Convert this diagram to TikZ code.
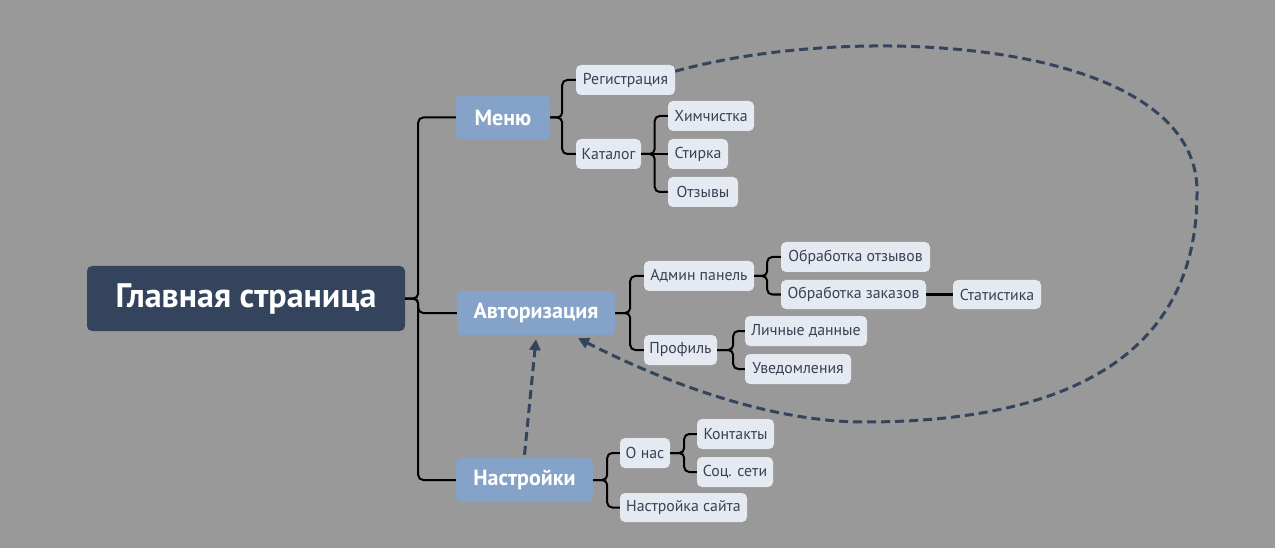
\documentclass[tikz,border=0pt]{standalone}
\usepackage{fontspec}
\setmainfont{PT Sans}
\usetikzlibrary{arrows.meta}
\definecolor{bg}{HTML}{999999}
\definecolor{rootc}{HTML}{34445C}
\definecolor{midc}{HTML}{85A2C8}
\definecolor{leafc}{HTML}{E4E9F2}
\definecolor{leaftext}{HTML}{3A4152}
\definecolor{dashc}{HTML}{34445C}
\begin{document}
\begin{tikzpicture}[x=1pt,y=-1pt,
 box/.style={rounded corners=5pt, inner sep=0pt, align=center},
 rootbox/.style={box, fill=rootc, text=white, font=\bfseries\fontsize{34}{38}\selectfont, minimum width=318pt, minimum height=65pt},
 midbox/.style={box, fill=midc, text=white, font=\bfseries\fontsize{22}{26}\selectfont, minimum height=44pt},
 leaf/.style={box, fill=leafc, text=leaftext, font=\fontsize{15.8}{18}\selectfont, minimum height=30pt},
 conn/.style={line width=2pt, rounded corners=5pt, draw=black},
 rel/.style={draw=dashc, line width=3pt, dash pattern=on 9pt off 5pt, -{Triangle[length=11pt,width=11pt]}}
]
\path[fill=bg] (0,0) rectangle (1275,548);

\node[rootbox] (root) at (246,298.5) {Главная страница};
\node[midbox, minimum width=94pt] (menu) at (503,117.5) {Меню};
\node[midbox, minimum width=158pt] (auth) at (536,313) {Авторизация};
\node[midbox, minimum width=137pt] (sett) at (524.5,480) {Настройки};

\node[leaf, minimum width=99pt] (reg) at (625.5,80) {Регистрация};
\node[leaf, minimum width=65pt] (cat) at (608.5,154) {Каталог};
\node[leaf, minimum width=86pt] (him) at (711,116) {Химчистка};
\node[leaf, minimum width=60pt] (stir) at (698,154) {Стирка};
\node[leaf, minimum width=70pt] (otz) at (703,192) {Отзывы};

\node[leaf, minimum width=110pt] (admin) at (699,276) {Админ панель};
\node[leaf, minimum width=73pt] (prof) at (680.5,350) {Профиль};
\node[leaf, minimum width=149pt] (obrotz) at (855.5,257) {Обработка отзывов};
\node[leaf, minimum width=145pt, minimum height=29pt] (obrzak) at (853.5,294.5) {Обработка заказов};
\node[leaf, minimum width=88pt, minimum height=29pt] (stat) at (997,294.5) {Статистика};
\node[leaf, minimum width=122pt] (lich) at (806,331) {Личные данные};
\node[leaf, minimum width=106pt] (uved) at (798,369) {Уведомления};

\node[leaf, minimum width=50pt] (onas) at (645,453) {О нас};
\node[leaf, minimum width=127pt, minimum height=29pt] (nsait) at (683.5,507.5) {Настройка сайта};
\node[leaf, minimum width=77pt] (kont) at (735.5,434) {Контакты};
\node[leaf, minimum width=76pt] (soc) at (735,472) {Соц. сети};

\draw[conn] (root.east) -- ++(13,0) |- (menu.west);
\draw[conn] (root.east) -- ++(13,0) |- (auth.west);
\draw[conn] (root.east) -- ++(13,0) |- (sett.west);

\draw[conn] (menu.east) -- ++(12,0) |- (reg.west);
\draw[conn] (menu.east) -- ++(12,0) |- (cat.west);
\draw[conn] (cat.east) -- ++(13.5,0) |- (him.west);
\draw[conn] (cat.east) -- (stir.west);
\draw[conn] (cat.east) -- ++(13.5,0) |- (otz.west);

\draw[conn] (auth.east) -- ++(15,0) |- (admin.west);
\draw[conn] (auth.east) -- ++(15,0) |- (prof.west);
\draw[conn] (admin.east) -- ++(13,0) |- (obrotz.west);
\draw[conn] (admin.east) -- ++(13,0) |- (obrzak.west);
\draw[conn] (obrzak.east) -- (stat.west);
\draw[conn] (prof.east) -- ++(16,0) |- (lich.west);
\draw[conn] (prof.east) -- ++(16,0) |- (uved.west);

\draw[conn] (sett.east) -- ++(14,0) |- (onas.west);
\draw[conn] (sett.east) -- ++(14,0) |- (nsait.west);
\draw[conn] (onas.east) -- ++(14,0) |- (kont.west);
\draw[conn] (onas.east) -- ++(14,0) |- (soc.west);

\draw[rel] ([yshift=3pt]sett.north) -- ([yshift=-4pt]auth.south);
\draw[rel] (reg.10) .. controls (860,20) and (1200,40) .. (1197,193)
  .. controls (1197,360) and (1060,422) .. (864,422)
  .. controls (780,422) and (680,390) .. ([xshift=42pt,yshift=-3pt]auth.south);
\end{tikzpicture}
\end{document}
